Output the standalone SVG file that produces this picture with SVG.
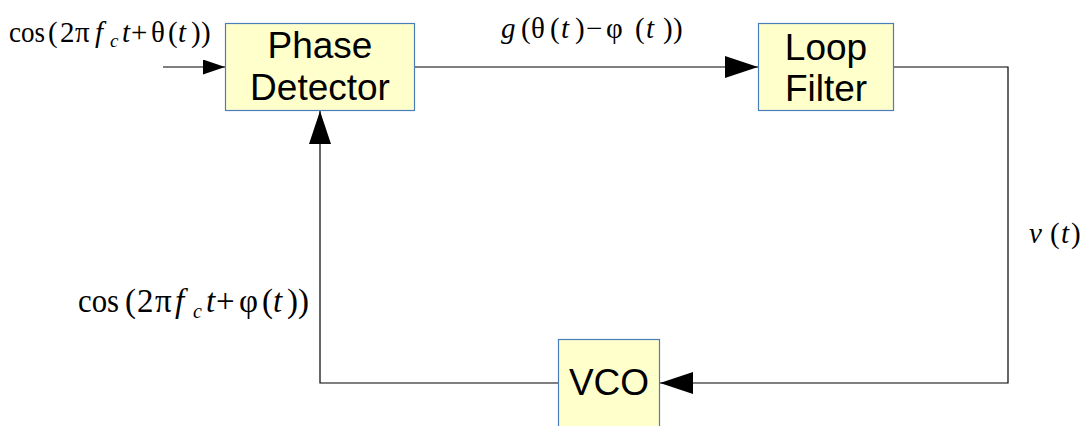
<svg xmlns="http://www.w3.org/2000/svg" width="1083" height="426" viewBox="0 0 1083 426">
<style>
.box{fill:#ffffcc;stroke:#4a7ebb;stroke-width:1.2}
.lbl{font-family:"Liberation Sans",Arial,sans-serif;font-size:37px;fill:#000;text-anchor:middle}
.wire{fill:none;stroke:#000;stroke-width:1.2}
.m{font-family:"Liberation Serif","DejaVu Serif",serif;fill:#000}
.i{font-style:italic}
</style>
<defs>
<marker id="ah" markerUnits="userSpaceOnUse" markerWidth="34" markerHeight="24" refX="33" refY="11" orient="auto">
<path d="M0,0 L33,11 L0,22 Z" fill="#000"/>
</marker>
<marker id="ahs" markerUnits="userSpaceOnUse" markerWidth="24" markerHeight="18" refX="22" refY="7.5" orient="auto">
<path d="M0,0 L22,7.5 L0,15 Z" fill="#000"/>
</marker>
</defs>
<g id="connectors">
<line class="wire" x1="163" y1="67" x2="225" y2="67" marker-end="url(#ahs)"/>
<line class="wire" x1="415" y1="67" x2="758" y2="67" marker-end="url(#ah)"/>
<polyline class="wire" points="894,67 1008,67 1008,383 660,383" marker-end="url(#ah)"/>
<polyline class="wire" points="558,383 320,383 320,111" marker-end="url(#ah)"/>
</g>
<g id="phase-detector">
<rect class="box" x="225.5" y="23.5" width="189" height="87"/>
<text class="lbl" x="320" y="58">Phase</text>
<text class="lbl" x="320" y="100">Detector</text>
</g>
<g id="loop-filter">
<rect class="box" x="758.5" y="23.5" width="135" height="87"/>
<text class="lbl" x="826" y="60">Loop</text>
<text class="lbl" x="826" y="101">Filter</text>
</g>
<g id="vco">
<rect class="box" x="558.5" y="339.5" width="101" height="100"/>
<text class="lbl" x="609" y="395">VCO</text>
</g>
<g id="labels">
<text class="m" x="9" y="42" font-size="30" textLength="36" lengthAdjust="spacingAndGlyphs">cos</text>
<text class="m" y="42" font-size="29"><tspan x="48">(</tspan><tspan x="60">2</tspan><tspan x="75">π</tspan><tspan class="i" x="95">f</tspan><tspan class="i" x="110" y="47" font-size="19">c</tspan><tspan class="i" x="122" y="42">t</tspan><tspan x="131">+</tspan><tspan x="151">θ</tspan><tspan x="168">(</tspan><tspan class="i" x="178">t</tspan><tspan x="191">)</tspan><tspan x="201">)</tspan></text>
<text class="m" y="38" font-size="29"><tspan class="i" x="501">g</tspan><tspan x="521">(</tspan><tspan x="531">θ</tspan><tspan x="550">(</tspan><tspan class="i" x="561">t</tspan><tspan x="575">)</tspan><tspan x="586">−</tspan><tspan x="606">φ</tspan><tspan x="635">(</tspan><tspan class="i" x="646">t</tspan><tspan x="663">)</tspan><tspan x="673">)</tspan></text>
<text class="m" y="243" font-size="29"><tspan class="i" x="1029">v</tspan><tspan x="1050">(</tspan><tspan class="i" x="1061">t</tspan><tspan x="1071">)</tspan></text>
<text class="m" x="78" y="312" font-size="34" textLength="41" lengthAdjust="spacingAndGlyphs">cos</text>
<text class="m" y="312" font-size="33"><tspan x="125">(</tspan><tspan x="137">2</tspan><tspan x="155">π</tspan><tspan class="i" x="175">f</tspan><tspan class="i" x="193" y="318" font-size="20">c</tspan><tspan class="i" x="206" y="312">t</tspan><tspan x="216">+</tspan><tspan x="239">φ</tspan><tspan x="262">(</tspan><tspan class="i" x="273">t</tspan><tspan x="287">)</tspan><tspan x="298">)</tspan></text>
</g>
</svg>
